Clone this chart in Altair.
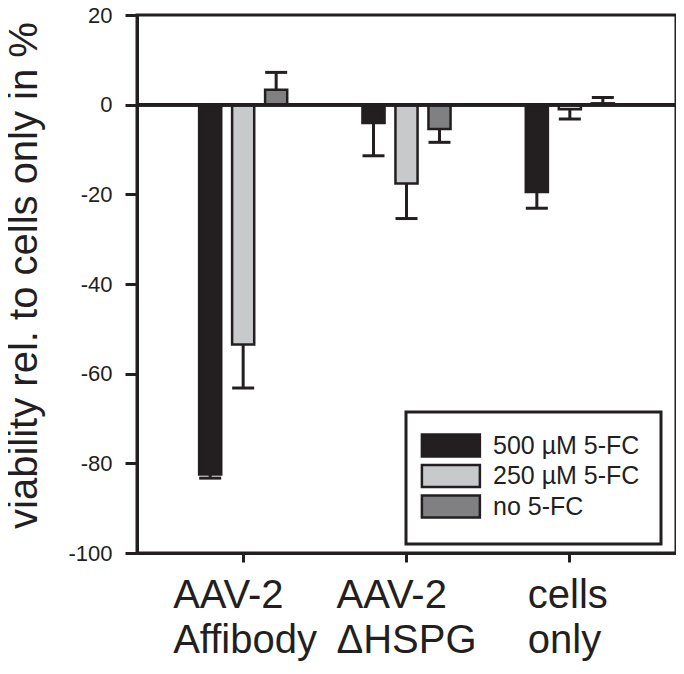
import altair as alt
import pandas as pd

groups = ["AAV-2 Affibody", "AAV-2 ΔHSPG", "cells only"]
treatments = ["500 µM 5-FC", "250 µM 5-FC", "no 5-FC"]
colors = ["#231f20", "#c8c9cb", "#808082"]

means = {
    "500 µM 5-FC": [-82.5, -4.1, -19.5],
    "250 µM 5-FC": [-53.5, -17.6, -1.0],
    "no 5-FC": [3.3, -5.4, 0.3],
}
errors = {
    "500 µM 5-FC": [0.8, 7.3, 3.6],
    "250 µM 5-FC": [9.7, 7.8, 2.2],
    "no 5-FC": [3.9, 3.0, 1.3],
}

rows = []
for t in treatments:
    for g, m, e in zip(groups, means[t], errors[t]):
        rows.append({"group": g, "treatment": t, "value": m, "err": e})
df = pd.DataFrame(rows)

ink = "#231f20"
font = "Liberation Sans"

x_enc = alt.X(
    "group:N",
    sort=groups,
    scale=alt.Scale(paddingInner=0.4, paddingOuter=0.35),
    axis=alt.Axis(
        title=None,
        labelAngle=0,
        labelExpr="split(datum.label, ' ')",
        labelAlign="left",
        labelOffset={
            "condition": {"test": "datum.label == 'cells only'", "value": -42},
            "value": -70,
        },
        labelFontSize=40,
        labelLineHeight=45,
        labelPadding=13,
        labelColor=ink,
        labelFont=font,
        tickSize=9,
        tickWidth=3,
        tickColor=ink,
        domainWidth=3,
        domainColor=ink,
    ),
)
xoff = alt.XOffset(
    "treatment:N",
    sort=treatments,
    scale=alt.Scale(paddingInner=0.33, paddingOuter=0.15),
)
y_scale = alt.Scale(domain=[-100, 20], nice=False, zero=False)

bars = alt.Chart(df).mark_bar(stroke=ink, strokeWidth=2.5).encode(
    x=x_enc,
    xOffset=xoff,
    y=alt.Y(
        "value:Q",
        scale=y_scale,
        axis=alt.Axis(
            values=[-100, -80, -60, -40, -20, 0, 20],
            labelExpr="datum.value + ''",
            grid=False,
            title="viability rel. to cells only in %",
            titleFontSize=40,
            titleFontWeight="normal",
            titleFont=font,
            titleColor=ink,
            titleAngle=270,
            titleX=-101,
            titleY=260,
            titleAlign="center",
            titleBaseline="alphabetic",
            labelFontSize=22,
            labelFont=font,
            labelColor=ink,
            labelPadding=13,
            tickSize=12,
            tickWidth=3,
            tickColor=ink,
            domainWidth=3,
            domainColor=ink,
        ),
    ),
    y2=alt.datum(0),
    color=alt.Color(
        "treatment:N",
        sort=treatments,
        scale=alt.Scale(domain=treatments, range=colors),
        legend=alt.Legend(
            title=None,
            orient="none",
            legendX=269,
            legendY=397,
            padding=21,
            strokeColor=ink,
            fillColor="white",
            labelFontSize=25,
            labelFont=font,
            labelColor=ink,
            labelOffset=41,
            rowPadding=-2.5,
            symbolType="M-1.6,-1H3.67V1H-1.6Z",
            symbolSize=484,
            symbolStrokeColor=ink,
            symbolStrokeWidth=2.5,
            symbolOpacity=1,
        ),
    ),
)

err_base = alt.Chart(df).transform_calculate(
    end="datum.value < 0 ? datum.value - datum.err : datum.value + datum.err"
)

err_rule = err_base.mark_rule(color=ink, strokeWidth=3).encode(
    x=alt.X("group:N", sort=groups),
    xOffset=xoff,
    y=alt.Y("value:Q", scale=y_scale),
    y2="end:Q",
)

err_cap = err_base.mark_tick(color=ink, size=22, thickness=3, opacity=1).encode(
    x=alt.X("group:N", sort=groups),
    xOffset=xoff,
    y=alt.Y("end:Q", scale=y_scale),
)

zero_line = alt.Chart(df).mark_rule(color=ink, strokeWidth=3).encode(
    y=alt.datum(0)
)

chart = (
    alt.layer(bars, err_rule, err_cap, zero_line)
    .properties(
        width=539,
        height=538,
        autosize=alt.AutoSizeParams(type="none"),
        padding={"left": 129, "top": 7, "right": 0, "bottom": 113},
    )
    .configure_view(stroke=ink, strokeWidth=3)
    .configure_legend(strokeWidth=3)
)

chart.save("out.html", embed_options={"renderer": "svg", "actions": False})
